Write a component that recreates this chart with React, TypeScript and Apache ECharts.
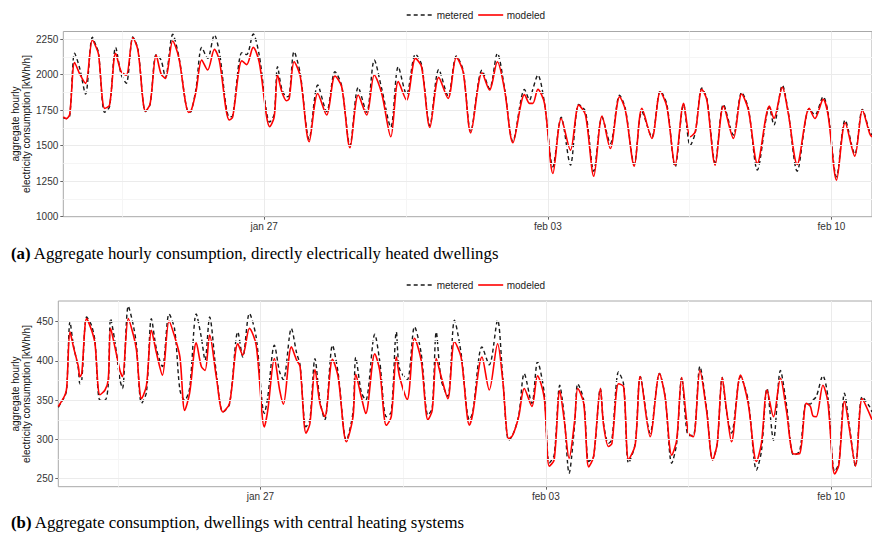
import React, { useEffect, useRef } from 'react';
import * as echarts from 'echarts';

// hours since jan 22 00:00
const X_MIN = 1;
const X_MAX = 480;
const X_TICKS = [120, 288, 456];
const X_TICK_LABELS = ['jan 27', 'feb 03', 'feb 10'];
const X_MINOR = [36, 204, 372];

const Y_TICKS_A = [1000, 1250, 1500, 1750, 2000, 2250];
const Y_MINOR_A = [1125, 1375, 1625, 1875, 2125];
const Y_TICKS_B = [250, 300, 350, 400, 450];
const Y_MINOR_B = [275, 325, 375, 425];

const LEGEND_NAMES = ['metered', 'modeled'];

const HOURS_A = [1, 2.8, 4.8, 7.7, 10.7, 14.2, 18.2, 20.5, 21.9, 25.5, 28.4, 32, 35.3, 38.3, 42.2, 45.2, 49.7, 52.4, 56, 58.9, 61.5, 65.8, 69.4, 75.3, 76.7, 79.6, 83, 86.5, 90.5, 93.4, 99.3, 101.3, 106.8, 109.6, 113.5, 117, 123.3, 125.9, 127.9, 130.4, 133.2, 134.8, 137.7, 141.3, 146.6, 151.7, 157, 161.9, 165.9, 170.8, 175.7, 180.7, 185.2, 189.6, 195, 199.4, 204.3, 209.6, 213.2, 218.1, 223.4, 228.9, 233.8, 237.8, 242.3, 249, 253.5, 258.1, 262.4, 267.3, 274.2, 277.2, 279.1, 282.1, 286, 291, 295.9, 301.4, 306.3, 310.3, 315.2, 320.1, 325, 330.5, 333.9, 339.2, 343.7, 349.6, 354.6, 358.5, 363.4, 368.4, 372.3, 375.3, 379.2, 382.2, 387.1, 392, 397.9, 402.8, 406.8, 412.1, 419.2, 421.9, 426.9, 430.4, 435.7, 442.8, 446.2, 451.1, 454, 459, 464.1, 469.8, 474.3, 478.6, 480];
const MODELED_A = [1703, 1690, 1720, 2085, 2005, 1938, 2243, 2190, 2140, 1762, 1785, 2149, 2020, 1996, 2259, 2172, 1743, 1792, 2137, 2005, 1973, 2236, 2120, 1734, 1745, 1880, 2102, 2032, 2177, 2100, 1680, 1700, 2097, 2070, 2191, 2090, 1633, 1700, 1996, 1880, 1816, 1830, 2090, 1990, 1527, 1867, 1715, 1990, 1914, 1485, 1856, 1715, 1997, 1867, 1562, 1950, 1820, 2114, 2055, 1628, 1980, 1832, 2121, 2020, 1590, 2013, 1891, 2090, 1891, 1520, 1860, 1797, 1797, 1896, 1797, 1304, 1691, 1468, 1785, 1715, 1285, 1708, 1480, 1844, 1750, 1356, 1762, 1551, 1879, 1773, 1363, 1797, 1562, 1598, 1896, 1820, 1363, 1778, 1551, 1863, 1750, 1375, 1778, 1691, 1910, 1727, 1368, 1762, 1691, 1825, 1715, 1257, 1661, 1426, 1750, 1586, 1560];
const METERED_A = [1695, 1690, 1710, 2150, 2045, 1862, 2262, 2200, 2150, 1734, 1775, 2191, 2000, 1938, 2265, 2180, 1740, 1790, 2140, 2102, 1980, 2283, 2130, 1735, 1740, 1900, 2191, 2114, 2278, 2160, 1703, 1710, 2154, 2140, 2285, 2140, 1665, 1720, 2055, 1900, 1844, 1850, 2161, 2010, 1545, 1926, 1740, 2020, 1920, 1500, 1910, 1735, 2102, 1900, 1630, 2055, 1860, 2144, 2070, 1640, 2036, 1850, 2130, 2030, 1600, 2031, 1900, 2149, 1900, 1530, 1896, 1820, 1896, 1997, 1800, 1351, 1700, 1363, 1790, 1740, 1320, 1700, 1515, 1855, 1760, 1370, 1740, 1560, 1885, 1790, 1350, 1790, 1500, 1590, 1905, 1830, 1380, 1790, 1575, 1875, 1760, 1328, 1770, 1645, 1925, 1735, 1320, 1760, 1715, 1844, 1730, 1280, 1680, 1440, 1755, 1600, 1575];

const HOURS_B = [1, 5.0, 6.0, 7.9, 9.9, 12.8, 13.7, 14.8, 17.7, 20.6, 22.6, 25.5, 28.5, 30.4, 31.8, 34.3, 37.3, 38.8, 42.2, 45.2, 47.0, 50.0, 52.9, 55.8, 58.8, 62.3, 66.2, 69.5, 72.6, 75.4, 78.3, 82.2, 85.2, 87.4, 90.1, 94.0, 97.9, 101.8, 106.7, 109.6, 113.5, 117.5, 122.3, 124.3, 128.2, 131.3, 133.5, 138.2, 141.3, 143.3, 146.8, 149.1, 152.1, 155.0, 157.9, 162.4, 165.7, 170.6, 174.5, 176.1, 179.4, 182.0, 187.3, 190.2, 194.1, 197.0, 200.0, 201.9, 206.4, 210.7, 214.6, 218.6, 221.1, 223.5, 226.4, 230.3, 234.2, 238.1, 243.0, 245.0, 250.4, 254.7, 259.6, 262.6, 266.1, 268.4, 272.0, 275.3, 279.8, 283.1, 287.0, 290.0, 292.9, 296.2, 298.8, 301.7, 305.0, 306.8, 310.3, 313.2, 316.1, 320.1, 322.0, 324.9, 326.9, 330.8, 333.8, 336.7, 340.6, 343.6, 349.4, 354.9, 358.2, 362.1, 365.0, 368.0, 371.9, 374.8, 378.7, 382.6, 386.2, 388.9, 391.8, 394.4, 397.3, 402.6, 407.1, 412.0, 414.9, 418.2, 422.0, 426.1, 429.6, 433.9, 437.4, 441.3, 443.7, 445.2, 447.2, 451.1, 454.0, 458.0, 460.5, 463.8, 466.8, 470.3, 474.2, 478.5, 480];
const MODELED_B = [342, 357, 367, 437, 418, 393, 380, 384, 454, 439, 422, 357, 363, 376, 441.5, 418, 388, 380, 454, 433, 414, 352, 369, 439, 410, 382, 451, 431, 405, 337, 359, 423, 393, 388, 433, 380, 335, 346, 422, 407.5, 441.5, 420, 316, 337, 403, 363, 345, 418, 401, 393, 308, 320, 389, 346, 329, 402, 380, 297, 329, 383, 354, 333, 409, 388, 318, 329, 405, 380, 351, 429, 401, 325, 337, 403, 380, 352, 424.5, 405, 318, 333, 405, 363, 422, 376, 301, 305, 329, 365, 342, 381, 354, 266, 274, 362, 325, 276, 325, 365, 346, 265, 278, 365, 318, 291, 295, 371, 367, 274.6, 293, 380, 303.5, 384, 354, 280, 299, 379, 308, 303.5, 388, 337, 274, 295, 379, 337, 297, 382, 346, 272, 295, 363, 329, 378, 337, 281.5, 282, 346, 342, 330, 329, 369, 348, 256, 267.5, 349, 312, 266, 352, 333, 325];
const METERED_B = [341, 356, 365, 450, 420, 390, 371, 375, 456, 445, 425, 350, 350, 370, 454, 425, 376, 365, 470, 445, 420, 346, 360, 454, 415, 393, 460, 440, 363, 350, 365, 460, 430, 401, 456, 385, 335, 345, 437, 405, 460.6, 430, 333, 354, 420, 386, 376, 441.5, 410, 395, 316, 325, 403, 350, 325, 420, 385, 299, 335, 404.6, 360, 350, 434, 400, 329, 335, 437, 390, 376, 443.6, 410, 331, 340, 437, 376, 355, 452, 410, 325, 335, 418, 395, 452, 380, 299, 305, 330, 384, 346, 399, 360, 270, 280, 369, 330, 257, 320, 371, 350, 272, 278, 365, 320, 295, 300, 386, 370, 270, 295, 380, 308, 384, 355, 269.6, 295, 379, 305, 305, 393, 340, 274, 295, 379, 335, 308, 380, 350, 261, 285, 365, 299, 388, 345, 280, 285, 346, 345, 350, 354.5, 381, 355, 259, 270, 359, 315, 266, 354.5, 342, 335];

const SANS = 'Liberation Sans, Arial, Helvetica, sans-serif';
const SERIF = 'Liberation Serif, Times New Roman, serif';
const MAJOR = { color: '#ebebeb', width: 1, type: 'solid' as const };
const MINOR = { color: '#f5f5f5', width: 1, type: 'solid' as const };
const BLACK = '#1a1a1a';
const RED = '#ff0000';
const DASH = [4, 3];

function pairs(xs: number[], ys: number[]) {
  return xs.map((x, i) => [x, ys[i]]);
}

function gridLines(yMajor: number[], yMinor: number[]) {
  return [
    ...X_MINOR.map((v) => ({ xAxis: v, lineStyle: MINOR })),
    ...yMinor.map((v) => ({ yAxis: v, lineStyle: MINOR })),
    ...X_TICKS.map((v) => ({ xAxis: v, lineStyle: MAJOR })),
    ...yMajor.map((v) => ({ yAxis: v, lineStyle: MAJOR })),
  ];
}

function xAxisFor(gridIndex: number) {
  return {
    gridIndex,
    type: 'value',
    min: X_MIN,
    max: X_MAX,
    axisLine: { show: false },
    axisTick: { show: true, customValues: X_TICKS, length: 3, lineStyle: { color: '#666' } },
    axisLabel: {
      customValues: X_TICKS,
      formatter: (v: number) => X_TICK_LABELS[X_TICKS.indexOf(Math.round(v))] ?? '',
      fontSize: 10,
      fontFamily: SANS,
      color: '#333',
      margin: 5,
    },
    splitLine: { show: false },
  };
}

function yAxisFor(gridIndex: number, min: number, max: number, ticks: number[]) {
  return {
    gridIndex,
    type: 'value',
    min,
    max,
    axisLine: { show: false },
    axisTick: { show: true, customValues: ticks, length: 3, lineStyle: { color: '#666' } },
    axisLabel: {
      customValues: ticks,
      formatter: (v: number) => String(Math.round(v)),
      fontSize: 10,
      fontFamily: SANS,
      color: '#333',
      margin: 5,
    },
    splitLine: { show: false },
  };
}

function legendGraphic(cy: number) {
  const x0 = 406.7;
  return [
    { type: 'line', shape: { x1: x0, y1: cy, x2: x0 + 25, y2: cy }, style: { stroke: BLACK, lineWidth: 1.4, lineDash: DASH } },
    { type: 'text', x: x0 + 30, y: cy, style: { text: LEGEND_NAMES[0], fontSize: 10, fontFamily: SANS, fill: '#222', verticalAlign: 'middle' } },
    { type: 'line', shape: { x1: x0 + 71.5, y1: cy, x2: x0 + 96.5, y2: cy }, style: { stroke: RED, lineWidth: 1.6 } },
    { type: 'text', x: x0 + 100, y: cy, style: { text: LEGEND_NAMES[1], fontSize: 10, fontFamily: SANS, fill: '#222', verticalAlign: 'middle' } },
  ];
}

function seriesFor(idx: number, hours: number[], metered: number[], modeled: number[], yMajor: number[], yMinor: number[], yMin: number) {
  return [
    {
      type: 'line',
      xAxisIndex: idx,
      yAxisIndex: idx,
      data: [[X_MIN, yMin]],
      symbol: 'none',
      lineStyle: { opacity: 0 },
      silent: true,
      z: 1,
      markLine: {
        silent: true,
        symbol: ['none', 'none'],
        label: { show: false },
        data: gridLines(yMajor, yMinor),
      },
    },
    {
      name: LEGEND_NAMES[0],
      type: 'line',
      xAxisIndex: idx,
      yAxisIndex: idx,
      data: pairs(hours, metered),
      symbol: 'none',
      smooth: 0.3,
      lineStyle: { color: BLACK, width: 1.4, type: DASH },
      itemStyle: { color: BLACK },
      z: 3,
    },
    {
      name: LEGEND_NAMES[1],
      type: 'line',
      xAxisIndex: idx,
      yAxisIndex: idx,
      data: pairs(hours, modeled),
      symbol: 'none',
      smooth: 0.3,
      lineStyle: { color: RED, width: 1.6 },
      itemStyle: { color: RED },
      z: 4,
    },
  ];
}

export default function App() {
  const ref = useRef<HTMLDivElement>(null);
  useEffect(() => {
    document.body.style.margin = '0';
    if (!ref.current) return;
    const chart = echarts.init(ref.current, null, { renderer: 'svg' });
    const option: any = {
      animation: false,
      backgroundColor: '#ffffff',
      grid: [
        { left: 63.3, top: 31.5, width: 810.7, height: 185.2, show: true, borderColor: '#a8a8a8', borderWidth: 1, backgroundColor: 'transparent' },
        { left: 58.3, top: 301, width: 816.2, height: 185.7, show: true, borderColor: '#a8a8a8', borderWidth: 1, backgroundColor: 'transparent' },
      ],
      xAxis: [xAxisFor(0), xAxisFor(1)],
      yAxis: [yAxisFor(0, 1000, 2302.8, Y_TICKS_A), yAxisFor(1, 239.8, 476.4, Y_TICKS_B)],
      series: [
        ...seriesFor(0, HOURS_A, METERED_A, MODELED_A, Y_TICKS_A.slice(1), Y_MINOR_A, 1000),
        ...seriesFor(1, HOURS_B, METERED_B, MODELED_B, Y_TICKS_B, Y_MINOR_B, 250),
      ],
      graphic: [
        ...legendGraphic(15),
        ...legendGraphic(285),
        {
          type: 'text', x: 21, y: 124, rotation: Math.PI / 2,
          style: { text: 'aggregate hourly\nelectricity consumption [kWh/h]', fontSize: 10, fontFamily: SANS, fill: '#111', align: 'center', verticalAlign: 'middle', lineHeight: 10.5 },
        },
        {
          type: 'text', x: 21, y: 394, rotation: Math.PI / 2,
          style: { text: 'aggregate hourly\nelectricity consumption [kWh/h]', fontSize: 10, fontFamily: SANS, fill: '#111', align: 'center', verticalAlign: 'middle', lineHeight: 10.5 },
        },
        {
          type: 'text', x: 11, y: 253,
          style: {
            text: '{b|(a)} Aggregate hourly consumption, directly electrically heated dwellings',
            fontSize: 16.8, fontFamily: SERIF, fill: '#000', verticalAlign: 'middle',
            rich: { b: { fontWeight: 'bold', fontSize: 16.8, fontFamily: SERIF, fill: '#000' } },
          },
        },
        {
          type: 'text', x: 11, y: 522,
          style: {
            text: '{b|(b)} Aggregate consumption, dwellings with central heating systems',
            fontSize: 16.8, fontFamily: SERIF, fill: '#000', verticalAlign: 'middle',
            rich: { b: { fontWeight: 'bold', fontSize: 16.8, fontFamily: SERIF, fill: '#000' } },
          },
        },
      ],
    };
    chart.setOption(option);
    return () => chart.dispose();
  }, []);
  return <div ref={ref} style={{ position: 'absolute', left: 0, top: 0, width: 872, height: 534 }} />;
}
